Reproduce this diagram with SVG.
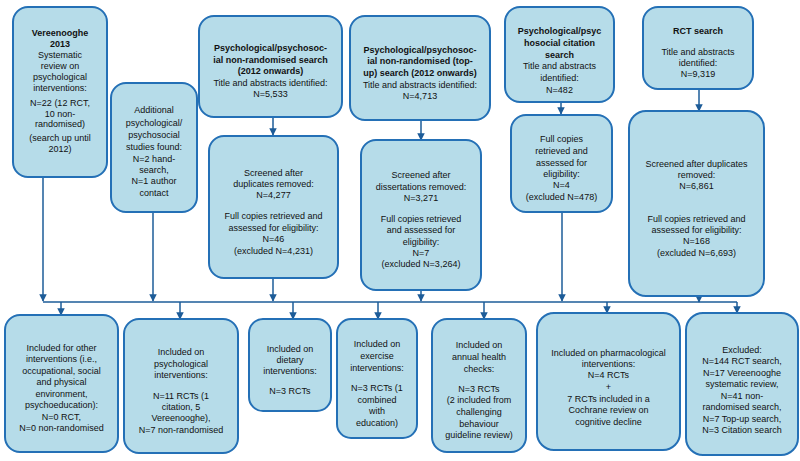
<svg xmlns="http://www.w3.org/2000/svg" width="800" height="461" viewBox="0 0 800 461">
<defs>
<style>
.box{fill:#b6dce9;stroke:#2470b6;stroke-width:2}
text{font-family:"Liberation Sans",Arial,sans-serif;font-size:9px;fill:#111;text-anchor:middle}
.b{font-weight:bold}
.c{fill:none;stroke:#1d5c98;stroke-width:1.5}
</style>
<marker id="ah" viewBox="0 0 10 10" refX="9" refY="5" markerWidth="5" markerHeight="5" orient="auto">
<path d="M0,0 L10,5 L0,10 z" fill="#1d5c98"/>
</marker>
</defs>
<rect width="800" height="461" fill="#fff"/>
<g id="connectors">
<path class="c" d="M43,302 H737"/>
<path class="c" d="M43,177 V301" marker-end="url(#ah)"/>
<path class="c" d="M153,212 V301" marker-end="url(#ah)"/>
<path class="c" d="M273,117 V135" marker-end="url(#ah)"/>
<path class="c" d="M273,278 V301" marker-end="url(#ah)"/>
<path class="c" d="M421,120 V140" marker-end="url(#ah)"/>
<path class="c" d="M421,290 V301" marker-end="url(#ah)"/>
<path class="c" d="M561,102 V114" marker-end="url(#ah)"/>
<path class="c" d="M562,212 V301" marker-end="url(#ah)"/>
<path class="c" d="M699,89 V111" marker-end="url(#ah)"/>
<path class="c" d="M699,296 V302" marker-end="url(#ah)"/>
<path class="c" d="M61,302 V315" marker-end="url(#ah)"/>
<path class="c" d="M180,302 V319" marker-end="url(#ah)"/>
<path class="c" d="M293,302 V319" marker-end="url(#ah)"/>
<path class="c" d="M378,302 V319" marker-end="url(#ah)"/>
<path class="c" d="M484,302 V319" marker-end="url(#ah)"/>
<path class="c" d="M607,302 V313" marker-end="url(#ah)"/>
<path class="c" d="M737,302 V313" marker-end="url(#ah)"/>
</g>
<g id="vereenooghe">
<rect class="box" x="13" y="7" width="94" height="170" rx="15"/>
<text x="60" y="35.5" class="b">Vereenooghe</text>
<text x="60" y="46.5" class="b">2013</text>
<text x="60" y="57.5">Systematic</text>
<text x="60" y="68.5">review on</text>
<text x="60" y="80">psychological</text>
<text x="60" y="91">interventions:</text>
<text x="60" y="106">N=22 (12 RCT,</text>
<text x="60" y="116.5">10 non-</text>
<text x="60" y="127">randomised)</text>
<text x="60" y="141">(search up until</text>
<text x="60" y="152">2012)</text>
</g>
<g id="additional">
<rect class="box" x="111" y="83" width="86" height="129" rx="15"/>
<text x="154" y="113.3">Additional</text>
<text x="154" y="126">psychological/</text>
<text x="154" y="138.3">psychosocial</text>
<text x="154" y="150">studies found:</text>
<text x="154" y="161.6">N=2 hand-</text>
<text x="154" y="173.3">search,</text>
<text x="154" y="184.3">N=1 author</text>
<text x="154" y="196">contact</text>
</g>
<g id="nonrand">
<rect class="box" x="199" y="16" width="143" height="101" rx="15"/>
<text x="270.5" y="51" class="b">Psychological/psychosoc-</text>
<text x="270.5" y="62.6" class="b">ial non-randomised search</text>
<text x="270.5" y="74.3" class="b">(2012 onwards)</text>
<text x="270.5" y="86">Title and abstracts identified:</text>
<text x="270.5" y="97.3">N=5,533</text>
</g>
<g id="nonrand-screen">
<rect class="box" x="209" y="136" width="129" height="142" rx="15"/>
<text x="273.5" y="175.6">Screened after</text>
<text x="273.5" y="187">duplicates removed:</text>
<text x="273.5" y="198.3">N=4,277</text>
<text x="273.5" y="219.3">Full copies retrieved and</text>
<text x="273.5" y="231">assessed for eligibility:</text>
<text x="273.5" y="242.3">N=46</text>
<text x="273.5" y="253.6">(excluded N=4,231)</text>
</g>
<g id="topup">
<rect class="box" x="350" y="16" width="140" height="104" rx="15"/>
<text x="420" y="52.6" class="b">Psychological/psychosoc-</text>
<text x="420" y="64.3" class="b">ial non-randomised (top-</text>
<text x="420" y="76" class="b">up) search (2012 onwards)</text>
<text x="420" y="87.6">Title and abstracts identified:</text>
<text x="420" y="99.3">N=4,713</text>
</g>
<g id="topup-screen">
<rect class="box" x="361" y="140" width="120" height="150" rx="15"/>
<text x="421" y="177.6">Screened after</text>
<text x="421" y="190">dissertations removed:</text>
<text x="421" y="201">N=3,271</text>
<text x="421" y="222.3">Full copies retrieved</text>
<text x="421" y="233.3">and assessed for</text>
<text x="421" y="245">eligibility:</text>
<text x="421" y="256">N=7</text>
<text x="421" y="267.3">(excluded N=3,264)</text>
</g>
<g id="citation">
<rect class="box" x="505" y="7" width="109" height="95" rx="15"/>
<text x="559.5" y="34.3" class="b">Psychological/psyc</text>
<text x="559.5" y="46" class="b">hosocial citation</text>
<text x="559.5" y="57.6" class="b">search</text>
<text x="559.5" y="69.3">Title and abstracts</text>
<text x="559.5" y="81">identified:</text>
<text x="559.5" y="92.6">N=482</text>
</g>
<g id="citation-full">
<rect class="box" x="511" y="115" width="101" height="97" rx="15"/>
<text x="561.5" y="141.6">Full copies</text>
<text x="561.5" y="154">retrieved and</text>
<text x="561.5" y="165.6">assessed for</text>
<text x="561.5" y="176.6">eligibility:</text>
<text x="561.5" y="188.3">N=4</text>
<text x="561.5" y="200">(excluded N=478)</text>
</g>
<g id="rct">
<rect class="box" x="643" y="7" width="110" height="82" rx="15"/>
<text x="698" y="34.3" class="b">RCT search</text>
<text x="698" y="55">Title and abstracts</text>
<text x="698" y="66">identified:</text>
<text x="698" y="77.3">N=9,319</text>
</g>
<g id="rct-screen">
<rect class="box" x="629" y="111" width="135" height="185" rx="17"/>
<text x="696.5" y="166.6">Screened after duplicates</text>
<text x="696.5" y="177.6">removed:</text>
<text x="696.5" y="189">N=6,861</text>
<text x="696.5" y="221.6">Full copies retrieved and</text>
<text x="696.5" y="233.3">assessed for eligibility:</text>
<text x="696.5" y="244.3">N=168</text>
<text x="696.5" y="256">(excluded N=6,693)</text>
</g>
<g id="other">
<rect class="box" x="5" y="315" width="113" height="137" rx="15"/>
<text x="61.5" y="351">Included for other</text>
<text x="61.5" y="362.3">interventions (i.e.,</text>
<text x="61.5" y="373.6">occupational, social</text>
<text x="61.5" y="385.3">and physical</text>
<text x="61.5" y="397">environment,</text>
<text x="61.5" y="408.3">psychoeducation):</text>
<text x="61.5" y="420">N=0 RCT,</text>
<text x="61.5" y="431.3">N=0 non-randomised</text>
</g>
<g id="psychological">
<rect class="box" x="124" y="319" width="114" height="134" rx="15"/>
<text x="181" y="355">Included on</text>
<text x="181" y="366.6">psychological</text>
<text x="181" y="378.3">interventions:</text>
<text x="181" y="398.6">N=11 RCTs (1</text>
<text x="181" y="410">citation, 5</text>
<text x="181" y="421">Vereenooghe),</text>
<text x="181" y="432.6">N=7 non-randomised</text>
</g>
<g id="dietary">
<rect class="box" x="249" y="319" width="82" height="92" rx="14"/>
<text x="290" y="351.6">Included on</text>
<text x="290" y="363.3">dietary</text>
<text x="290" y="374.3">interventions:</text>
<text x="290" y="394.3">N=3 RCTs</text>
</g>
<g id="exercise">
<rect class="box" x="337" y="319" width="80" height="119" rx="14"/>
<text x="377" y="347.3">Included on</text>
<text x="377" y="359.3">exercise</text>
<text x="377" y="370.6">interventions:</text>
<text x="377" y="391">N=3 RCTs (1</text>
<text x="377" y="402.6">combined</text>
<text x="377" y="414.3">with</text>
<text x="377" y="426">education)</text>
</g>
<g id="annual">
<rect class="box" x="432" y="319" width="94" height="133" rx="15"/>
<text x="479" y="347.6">Included on</text>
<text x="479" y="360">annual health</text>
<text x="479" y="371.6">checks:</text>
<text x="479" y="391.6">N=3 RCTs</text>
<text x="479" y="402.6">(2 included from</text>
<text x="479" y="415">challenging</text>
<text x="479" y="426.6">behaviour</text>
<text x="479" y="438.3">guideline review)</text>
</g>
<g id="pharma">
<rect class="box" x="537" y="313" width="143" height="137" rx="17"/>
<text x="608.5" y="355.6">Included on pharmacological</text>
<text x="608.5" y="366.6">interventions:</text>
<text x="608.5" y="378.3">N=4 RCTs</text>
<text x="608.5" y="390">+</text>
<text x="608.5" y="401.6">7 RCTs included in a</text>
<text x="608.5" y="413.3">Cochrane review on</text>
<text x="608.5" y="425">cognitive decline</text>
</g>
<g id="excluded">
<rect class="box" x="686" y="313" width="112" height="142" rx="17"/>
<text x="742" y="352.6">Excluded:</text>
<text x="742" y="364.3">N=144 RCT search,</text>
<text x="742" y="376">N=17 Vereenooghe</text>
<text x="742" y="387.3">systematic review,</text>
<text x="742" y="399">N=41 non-</text>
<text x="742" y="410.3">randomised search,</text>
<text x="742" y="421.6">N=7 Top-up search,</text>
<text x="742" y="433.3">N=3 Citation search</text>
</g>
</svg>
